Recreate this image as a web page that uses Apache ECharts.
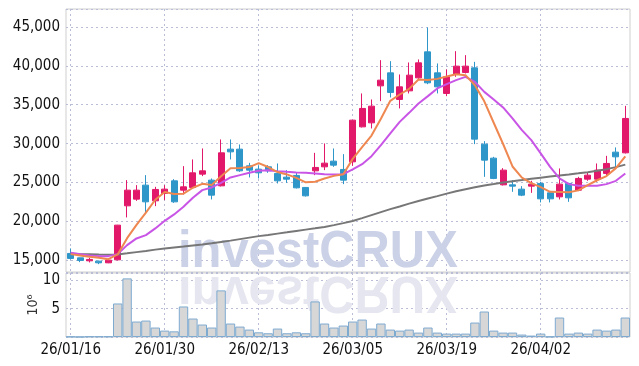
<!DOCTYPE html>
<html>
<head>
<meta charset="utf-8">
<script src="https://cdn.jsdelivr.net/npm/echarts@6/dist/echarts.min.js"></script>
<style>
html,body{margin:0;padding:0;background:#fff;}
#c{width:639px;height:366px;}
</style>
</head>
<body>
<div id="c"></div>
<script>
const dates = ['26/01/16','26/01/19','26/01/20','26/01/21','26/01/22','26/01/23','26/01/26','26/01/27','26/01/28','26/01/29',
'26/01/30','26/02/02','26/02/03','26/02/04','26/02/05','26/02/06','26/02/09','26/02/10','26/02/11','26/02/12',
'26/02/13','26/02/19','26/02/20','26/02/23','26/02/24','26/02/25','26/02/26','26/02/27','26/03/03','26/03/04',
'26/03/05','26/03/06','26/03/09','26/03/10','26/03/11','26/03/12','26/03/13','26/03/16','26/03/17','26/03/18',
'26/03/19','26/03/20','26/03/23','26/03/24','26/03/25','26/03/26','26/03/27','26/03/30','26/03/31','26/04/01',
'26/04/02','26/04/03','26/04/06','26/04/07','26/04/08','26/04/09','26/04/10','26/04/13','26/04/14','26/04/15'];

const opens  = [15887,15321,14936,14897,14680,15064,22003,22864,24663,22646,23597,25216,24020,24368,26077,25306,24573,29289,29289,27143,
26720,27015,26167,25691,25910,24367,26501,27015,27747,26681,27657,32155,32669,37423,39094,35676,36781,38451,41792,39094,
36447,38927,39145,39736,29932,28133,24702,24702,24149,24535,24882,23674,23160,24882,24020,25434,25434,26167,28904,28814];
const closes = [15244,14987,15116,14679,15026,19523,24020,24020,22517,24110,24150,22517,24445,26244,26501,23378,28814,28942,26501,26591,
26244,26501,25216,25434,24316,23288,26937,27490,27233,25306,33016,34519,34815,38156,36575,37295,38798,40379,37809,37295,
38580,39955,39955,30574,27876,25524,26591,24535,23378,24792,22903,22903,24792,23031,25524,25948,26591,27452,28300,33234];
const lows   = [15116,14770,14730,14510,14640,14990,20513,22646,21027,21965,22735,22389,23468,24239,25820,22825,24496,27966,26372,25653,
25524,26244,24882,24959,24239,23200,25948,26591,27015,24792,27143,32078,31950,35457,35933,34519,36447,38323,37642,36447,
36100,38580,39017,29932,25730,25434,24625,23802,23250,23674,22440,22440,22825,22517,23892,25216,25087,25948,27015,28737];
const highs  = [16529,15330,15321,14950,15026,19550,25306,24663,25950,24445,24663,25434,27105,27966,29379,25520,30536,30536,29893,27528,
27195,27233,27452,26591,26244,24400,28814,30022,29379,28647,33050,36447,35676,40726,40597,38888,40430,40816,44928,40301,
39531,41882,41368,40508,30317,28300,26848,25306,24535,25216,25087,23802,26809,24959,25730,26244,27452,28428,29508,34853];

const ma5 = [15797,15630,15450,15321,15150,15760,17850,19550,21120,22790,23780,23530,23570,24330,24830,24690,25800,26830,26880,26980,
27500,26990,26340,26040,25600,25020,25090,25510,25855,26065,28040,29550,31030,33200,35500,36310,37040,38245,38165,38320,
38620,38910,38800,37500,35440,32680,29950,27060,25620,24920,24400,23800,23780,23740,23990,24660,25290,25830,26850,28370];
const ma10 = [15964,15797,15630,15540,15540,15797,16953,17814,18238,19099,20076,20898,21875,23031,24020,24368,24959,25653,25948,26244,
26501,26591,26462,26372,26295,26244,26167,26077,26038,26077,26681,27362,28390,29803,31307,32797,33954,35162,36100,37089,
37642,38156,38580,37937,36652,35676,34647,33234,31731,30446,28737,27015,25524,24792,24573,24573,24573,24792,25216,26167];
const maLong = [15861,15822,15797,15758,15732,15758,15900,16054,16208,16375,16529,16658,16786,16915,17043,17185,17364,17532,17724,17917,
18110,18264,18431,18598,18778,18945,19112,19292,19523,19780,20063,20423,20808,21194,21579,21926,22286,22633,22954,23250,
23571,23867,24124,24381,24625,24817,25010,25177,25331,25486,25627,25768,25910,26038,26180,26334,26514,26719,26976,27297];

const volumes = [0.07,0.02,0.1,0.1,0.1,5.92,10.35,2.73,2.9,1.67,1.13,1.0,5.39,3.26,2.2,1.67,8.23,2.38,1.84,1.31,
0.83,0.66,1.49,0.66,0.83,0.66,6.28,2.38,1.67,2.02,2.73,3.08,1.49,2.38,1.31,1.13,1.31,0.78,1.67,0.78,
0.6,0.6,0.6,2.55,4.5,1.13,0.78,0.78,0.43,0.25,0.6,0.07,3.44,0.6,0.78,0.6,1.31,1.13,1.31,3.44];

const ohlc = opens.map((o, i) => [o, closes[i], lows[i], highs[i]]);

const FONT = "'Liberation Sans Narrow', 'DejaVu Sans Condensed', sans-serif";
const WM_FONT = "bold 52px 'Liberation Sans', Arial, sans-serif";
const gridLine = {show: true, lineStyle: {color: '#b9bdd6', type: [2, 3], width: 1}};

const chart = echarts.init(document.getElementById('c'), null, {renderer: 'canvas'});
chart.setOption({
  animation: false,
  backgroundColor: '#fff',
  grid: [
    {left: 66, right: 9, top: 9, height: 263, show: true, borderColor: '#cfcfcf', borderWidth: 1},
    {left: 66, right: 9, top: 273, height: 64, show: true, borderColor: '#cfcfcf', borderWidth: 1}
  ],
  graphic: [
    {type: 'text', z: 1, x: 178, y: 252.5, scaleX: 0.94, originX: 0,
     style: {text: 'investCRUX', font: WM_FONT, fill: '#cbd1e6', verticalAlign: 'middle'}},
    {type: 'text', z: 1, x: 178, y: 291.5, scaleX: 0.94, scaleY: -1, originX: 0, originY: 0,
     style: {text: 'investCRUX', font: WM_FONT, fill: '#e5e6ef', verticalAlign: 'middle'}}
  ],
  xAxis: [
    {type: 'category', gridIndex: 0, data: dates, boundaryGap: true,
     axisLine: {show: false}, axisTick: {show: false}, axisLabel: {show: false, interval: 9},
     splitLine: Object.assign({interval: 9, alignWithLabel: true}, gridLine)},
    {type: 'category', gridIndex: 1, data: dates, boundaryGap: true,
     axisLine: {show: false}, axisTick: {show: false},
     axisLabel: {interval: 9, color: '#111', fontFamily: FONT, fontSize: 15, margin: 6},
     splitLine: Object.assign({interval: 9, alignWithLabel: true}, gridLine)}
  ],
  yAxis: [
    {type: 'value', gridIndex: 0, min: 13500, max: 47300, splitNumber: 5,
     axisLine: {show: false}, axisTick: {show: false},
     axisLabel: {showMinLabel: false, showMaxLabel: false, color: '#111', fontFamily: FONT, fontSize: 15, margin: 6,
       formatter: v => v.toLocaleString('en-US')},
     splitLine: gridLine},
    {type: 'value', gridIndex: 1, min: 0, max: 11.3, interval: 5,
     name: '10\u2076', nameLocation: 'middle', nameRotate: 90, nameGap: 26, nameMoveOverlap: false,
     nameTextStyle: {color: '#333', fontFamily: FONT, fontSize: 14},
     axisLine: {show: false}, axisTick: {show: false},
     axisLabel: {showMinLabel: false, showMaxLabel: false, color: '#111', fontFamily: FONT, fontSize: 15, margin: 6},
     splitLine: gridLine}
  ],
  series: [
    {type: 'candlestick', xAxisIndex: 0, yAxisIndex: 0, data: ohlc, barWidth: '68%', z: 3,
     itemStyle: {color: '#e2186a', color0: '#2e96c9', borderColor: '#e2186a', borderColor0: '#2e96c9', borderWidth: 1}},
    {type: 'line', xAxisIndex: 0, yAxisIndex: 0, data: maLong, symbol: 'none', z: 4,
     lineStyle: {color: '#777777', width: 2}},
    {type: 'line', xAxisIndex: 0, yAxisIndex: 0, data: ma10, symbol: 'none', z: 4,
     lineStyle: {color: '#c955e6', width: 2}},
    {type: 'line', xAxisIndex: 0, yAxisIndex: 0, data: ma5, symbol: 'none', z: 5,
     lineStyle: {color: '#ef8750', width: 2}},
    {type: 'bar', xAxisIndex: 1, yAxisIndex: 1, data: volumes, barCategoryGap: '0%', z: 3,
     itemStyle: {color: '#d7d7d7', borderColor: '#7eaad0', borderWidth: 1}}
  ]
});
</script>
</body>
</html>
